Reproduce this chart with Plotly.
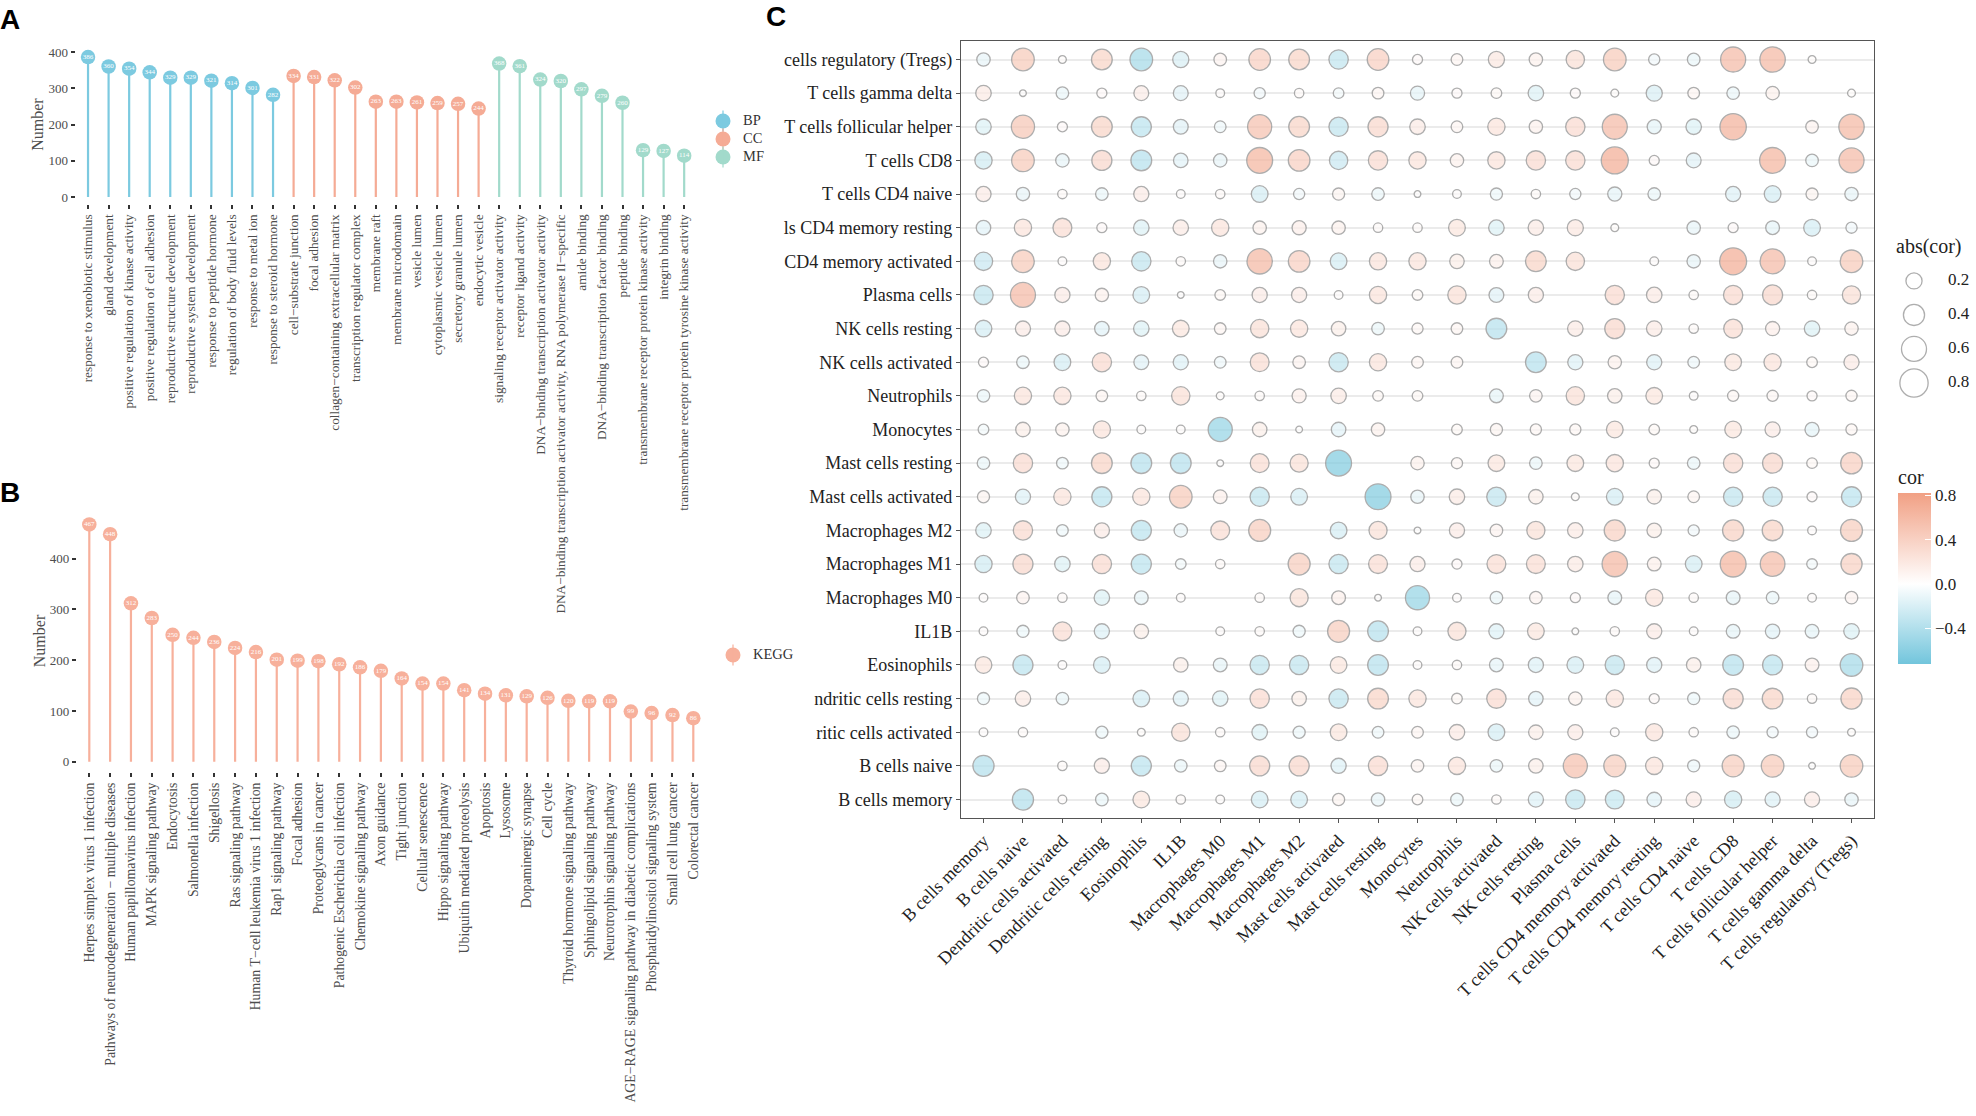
import numpy as np
import plotly.graph_objects as go

W, H = 1976, 1116
M = "\u2212"

# ---------------- Panel A data (GO) ----------------
go_bp_terms = ["response to xenobiotic stimulus", "gland development",
               "positive regulation of kinase activity", "positive regulation of cell adhesion",
               "reproductive structure development", "reproductive system development",
               "response to peptide hormone", "regulation of body fluid levels",
               "response to metal ion", "response to steroid hormone"]
go_bp_counts = [386, 360, 354, 344, 329, 329, 321, 314, 301, 282]

go_cc_terms = [f"cell{M}substrate junction", "focal adhesion",
               f"collagen{M}containing extracellular matrix", "transcription regulator complex",
               "membrane raft", "membrane microdomain", "vesicle lumen",
               "cytoplasmic vesicle lumen", "secretory granule lumen", "endocytic vesicle"]
go_cc_counts = [334, 331, 322, 302, 263, 263, 261, 259, 257, 244]

go_mf_terms = ["signaling receptor activator activity", "receptor ligand activity",
               f"DNA{M}binding transcription activator activity",
               f"DNA{M}binding transcription activator activity, RNA polymerase II{M}specific",
               "amide binding", f"DNA{M}binding transcription factor binding", "peptide binding",
               "transmembrane receptor protein kinase activity", "integrin binding",
               "transmembrane receptor protein tyrosine kinase activity"]
go_mf_counts = [368, 361, 324, 320, 297, 279, 260, 129, 127, 114]

go_groups = ["BP", "CC", "MF"]

# ---------------- Panel B data (KEGG) ----------------
kegg_terms = ["Herpes simplex virus 1 infection", f"Pathways of neurodegeneration {M} multiple diseases",
              "Human papillomavirus infection", "MAPK signaling pathway", "Endocytosis",
              "Salmonella infection", "Shigellosis", "Ras signaling pathway",
              f"Human T{M}cell leukemia virus 1 infection", "Rap1 signaling pathway", "Focal adhesion",
              "Proteoglycans in cancer", "Pathogenic Escherichia coli infection",
              "Chemokine signaling pathway", "Axon guidance", "Tight junction", "Cellular senescence",
              "Hippo signaling pathway", "Ubiquitin mediated proteolysis", "Apoptosis", "Lysosome",
              "Dopaminergic synapse", "Cell cycle", "Thyroid hormone signaling pathway",
              "Sphingolipid signaling pathway", "Neurotrophin signaling pathway",
              f"AGE{M}RAGE signaling pathway in diabetic complications",
              "Phosphatidylinositol signaling system", "Small cell lung cancer", "Colorectal cancer"]
kegg_counts = [467, 448, 312, 283, 250, 244, 236, 224, 216, 201, 199, 198, 192, 186, 179,
               164, 154, 154, 141, 134, 131, 129, 126, 120, 119, 119, 99, 96, 92, 86]

# ---------------- Panel C data (correlation bubbles) ----------------
x_cells = ["B cells memory", "B cells naive", "Dendritic cells activated", "Dendritic cells resting",
           "Eosinophils", "IL1B", "Macrophages M0", "Macrophages M1", "Macrophages M2",
           "Mast cells activated", "Mast cells resting", "Monocytes", "Neutrophils",
           "NK cells activated", "NK cells resting", "Plasma cells", "T cells CD4 memory activated",
           "T cells CD4 memory resting", "T cells CD4 naive", "T cells CD8",
           "T cells follicular helper", "T cells gamma delta", "T cells regulatory (Tregs)"]
# row labels top -> bottom, as visible (left part clipped in the original)
y_cells_top_down = ["cells regulatory (Tregs)", "T cells gamma delta", "T cells follicular helper",
                    "T cells CD8", "T cells CD4 naive", "ls CD4 memory resting", "CD4 memory activated",
                    "Plasma cells", "NK cells resting", "NK cells activated", "Neutrophils", "Monocytes",
                    "Mast cells resting", "Mast cells activated", "Macrophages M2", "Macrophages M1",
                    "Macrophages M0", "IL1B", "Eosinophils", "ndritic cells resting",
                    "ritic cells activated", "B cells naive", "B cells memory"]
N = None
cor_rows = [
    [-0.12, 0.47, 0.02, 0.38, -0.47, -0.2, 0.1, 0.42, 0.38, -0.32, 0.42, 0.05, 0.08, 0.2, 0.12, 0.28, 0.47, -0.07, -0.1, 0.6, 0.62, 0.02, N],
    [0.18, 0.01, -0.1, 0.05, 0.16, -0.16, 0.03, -0.07, 0.04, -0.06, 0.08, -0.14, 0.05, 0.06, -0.18, 0.05, 0.02, -0.2, 0.08, -0.1, 0.12, N, 0.02],
    [-0.18, 0.5, 0.05, 0.38, -0.35, -0.16, -0.08, 0.55, 0.38, -0.32, 0.35, 0.18, 0.08, 0.24, 0.12, 0.32, 0.6, -0.14, -0.18, 0.68, N, 0.1, 0.62],
    [-0.24, 0.47, -0.12, 0.35, -0.38, -0.15, -0.12, 0.65, 0.42, -0.28, 0.32, 0.24, 0.12, 0.24, 0.32, 0.32, 0.72, 0.05, -0.16, N, 0.65, -0.1, 0.6],
    [0.17, -0.12, 0.04, -0.1, 0.17, 0.03, 0.04, -0.22, -0.07, 0.09, -0.1, 0.01, 0.03, -0.09, 0.04, -0.07, -0.14, -0.1, N, -0.17, -0.22, 0.09, -0.12],
    [-0.15, 0.24, 0.3, 0.05, -0.18, 0.18, 0.24, 0.12, 0.14, 0.12, 0.04, 0.04, 0.22, -0.18, 0.18, 0.2, 0.02, N, -0.12, 0.05, -0.13, -0.22, -0.07],
    [-0.28, 0.47, 0.03, 0.24, -0.32, 0.04, -0.12, 0.62, 0.42, -0.22, 0.24, 0.24, 0.15, 0.13, 0.38, 0.28, N, 0.03, -0.12, 0.72, 0.6, 0.03, 0.47],
    [-0.32, 0.6, 0.17, 0.12, -0.22, 0.01, 0.06, 0.17, 0.17, 0.03, 0.24, 0.06, 0.28, -0.16, 0.17, N, 0.32, 0.18, 0.04, 0.32, 0.35, 0.04, 0.28],
    [-0.22, 0.17, 0.17, -0.15, -0.18, 0.22, 0.08, 0.28, 0.24, 0.15, -0.1, 0.07, 0.08, -0.38, N, 0.18, 0.35, 0.18, 0.04, 0.3, 0.14, -0.18, 0.12],
    [0.05, -0.1, -0.22, 0.32, -0.16, -0.17, -0.08, 0.3, 0.1, -0.32, 0.24, 0.08, 0.08, N, -0.38, -0.17, 0.12, -0.17, -0.08, 0.22, 0.24, 0.06, 0.17],
    [-0.1, 0.24, 0.24, 0.08, 0.04, 0.28, 0.02, 0.04, 0.14, 0.18, 0.06, 0.06, N, -0.13, 0.1, 0.28, 0.15, 0.22, 0.03, 0.07, 0.07, 0.05, 0.07],
    [-0.06, 0.15, 0.12, 0.24, 0.03, 0.03, -0.55, 0.15, 0.01, -0.15, 0.12, N, 0.06, 0.09, 0.07, 0.07, 0.22, 0.06, 0.02, 0.22, 0.17, -0.14, 0.07],
    [-0.1, 0.32, -0.08, 0.38, -0.38, -0.38, 0.01, 0.3, 0.27, -0.65, N, 0.12, 0.07, 0.22, -0.1, 0.22, 0.24, 0.05, -0.1, 0.32, 0.35, 0.06, 0.42],
    [0.09, -0.17, 0.24, -0.35, 0.24, 0.47, 0.13, -0.32, -0.22, N, -0.65, -0.12, 0.18, -0.32, 0.15, 0.02, -0.22, 0.15, 0.08, -0.32, -0.32, 0.05, -0.35],
    [-0.18, 0.32, -0.08, 0.17, -0.35, -0.12, 0.3, 0.44, N, -0.22, 0.27, 0.01, 0.17, 0.1, 0.27, 0.18, 0.4, 0.15, -0.07, 0.4, 0.38, 0.03, 0.44],
    [-0.24, 0.35, -0.18, 0.32, -0.35, -0.06, 0.04, N, 0.44, -0.32, 0.3, 0.17, 0.05, 0.3, 0.3, 0.18, 0.62, 0.13, -0.22, 0.65, 0.58, -0.06, 0.4],
    [0.03, 0.1, 0.04, -0.18, -0.13, 0.03, N, 0.04, 0.27, 0.13, 0.01, -0.55, 0.03, -0.1, 0.1, 0.05, -0.13, 0.24, 0.04, -0.13, -0.1, 0.03, 0.1],
    [0.03, -0.09, 0.3, -0.17, 0.15, N, 0.03, 0.04, -0.09, 0.44, -0.38, 0.03, 0.27, -0.17, 0.22, 0.01, 0.04, 0.17, 0.03, -0.13, -0.15, -0.13, -0.18],
    [0.22, -0.35, 0.03, -0.22, N, 0.15, -0.13, -0.32, -0.32, 0.22, -0.38, 0.03, 0.04, -0.13, -0.17, -0.22, -0.32, -0.17, 0.15, -0.38, -0.35, 0.13, -0.47],
    [-0.09, 0.18, -0.1, N, -0.22, -0.17, -0.18, 0.32, 0.15, -0.32, 0.38, 0.24, 0.06, 0.32, -0.15, 0.12, 0.24, 0.05, -0.09, 0.35, 0.38, 0.04, 0.4],
    [0.03, 0.04, N, -0.09, 0.02, 0.28, 0.04, -0.18, -0.09, 0.22, -0.08, 0.08, 0.18, -0.22, 0.15, 0.17, 0.03, 0.24, 0.04, -0.1, -0.07, -0.07, 0.02],
    [-0.4, N, 0.04, 0.17, -0.35, -0.1, 0.08, 0.35, 0.35, -0.17, 0.32, 0.1, 0.24, -0.1, 0.15, 0.55, 0.44, 0.24, -0.09, 0.44, 0.47, 0.01, 0.47],
    [N, -0.4, 0.03, -0.1, 0.22, 0.04, 0.03, -0.22, -0.22, 0.09, -0.12, 0.06, -0.1, 0.04, -0.17, -0.32, -0.3, -0.15, 0.17, -0.24, -0.17, 0.17, -0.12],
]
size_legend_values = [0.2, 0.4, 0.6, 0.8]
cor_tick_values = [-0.4, 0.0, 0.4, 0.8]
cor_tick_text = [f"{M}0.4", "0.0", "0.4", "0.8"]
cor_limits = (-0.72, 0.82)

# ---------------- styles ----------------
SERIF = "Liberation Serif"
SANS = "Liberation Sans"
C_BP, C_CC, C_MF = "#7CCAE0", "#F5AB95", "#A2DACB"
C_KEGG = "#F7B09B"
LOW, HIGH = "#72C5DC", "#F1A084"
TXT = "#4D4D4D"


def xd(a, b):
    return [a / W, b / W]


def yd(top, bottom):
    return [1 - bottom / H, 1 - top / H]


def bubble_diam(v):
    return 4 + 25 * np.sqrt(abs(v) / 0.85)


fig = go.Figure()


def add_lollipops(counts, color, offset, xa, ya):
    xs = list(range(offset, offset + len(counts)))
    lx, ly = [], []
    for x, v in zip(xs, counts):
        lx += [x, x, None]
        ly += [0, v, None]
    fig.add_trace(go.Scatter(x=lx, y=ly, mode="lines", line=dict(color=color, width=2.2),
                             xaxis=xa, yaxis=ya, showlegend=False, hoverinfo="skip"))
    fig.add_trace(go.Scatter(x=xs, y=counts, mode="markers",
                             marker=dict(size=14.5, color=color, line=dict(width=0)),
                             xaxis=xa, yaxis=ya, showlegend=False))
    fig.add_trace(go.Scatter(x=xs, y=counts, mode="text", text=[str(v) for v in counts],
                             textfont=dict(family=SERIF, size=7, color="white"),
                             xaxis=xa, yaxis=ya, showlegend=False, hoverinfo="skip"))


def add_key(names, colors, xa, ya):
    ys = list(range(len(names)))
    fig.add_trace(go.Scatter(x=[0] * len(names), y=ys, mode="markers", xaxis=xa, yaxis=ya,
                             marker=dict(size=15, color=colors, line=dict(width=0)),
                             showlegend=False, hoverinfo="skip"))
    fig.add_trace(go.Scatter(x=[0] * len(names), y=ys, mode="markers", xaxis=xa, yaxis=ya,
                             marker=dict(size=15, symbol="line-ns", line=dict(width=1.2, color=colors)),
                             showlegend=False, hoverinfo="skip"))
    fig.add_trace(go.Scatter(x=[1] * len(names), y=ys, mode="text", text=names, xaxis=xa, yaxis=ya,
                             textposition="middle right",
                             textfont=dict(family=SERIF, size=14.5, color="#333"),
                             showlegend=False, hoverinfo="skip"))


# Panel A
a_terms = go_bp_terms + go_cc_terms + go_mf_terms
add_lollipops(go_bp_counts, C_BP, 0, "x", "y")
add_lollipops(go_cc_counts, C_CC, len(go_bp_terms), "x", "y")
add_lollipops(go_mf_counts, C_MF, len(go_bp_terms) + len(go_cc_terms), "x", "y")
add_key(go_groups, [C_BP, C_CC, C_MF], "x5", "y5")

# Panel B
add_lollipops(kegg_counts, C_KEGG, 0, "x2", "y2")
add_key(["KEGG"], [C_KEGG], "x6", "y6")

# Panel C
nrow = len(y_cells_top_down)
bx, by, bc, bs, ht = [], [], [], [], []
for r, row in enumerate(cor_rows):
    for c, v in enumerate(row):
        if v is None:
            continue
        bx.append(c)
        by.append(nrow - 1 - r)
        bc.append(v)
        bs.append(bubble_diam(v))
        ht.append(f"{y_cells_top_down[r]} / {x_cells[c]}: {v}")

mid = (0 - cor_limits[0]) / (cor_limits[1] - cor_limits[0])
fig.add_trace(go.Scatter(
    x=bx, y=by, mode="markers", xaxis="x3", yaxis="y3", showlegend=False,
    text=ht, hoverinfo="text",
    marker=dict(size=bs, sizemode="diameter", color=bc, cmin=cor_limits[0], cmax=cor_limits[1],
                colorscale=[[0, LOW], [mid, "#FFFFFF"], [1, HIGH]],
                line=dict(color="#8C8C8C", width=1.3),
                colorbar=dict(title=dict(text="cor", side="top", font=dict(family=SERIF, size=20, color="#222")),
                              x=1898 / W, xanchor="left", xpad=0, ypad=0,
                              y=1 - 664 / H, yanchor="bottom",
                              lenmode="pixels", len=198, thickness=33, outlinewidth=0,
                              tickvals=cor_tick_values, ticktext=cor_tick_text,
                              ticks="inside", tickcolor="white", ticklen=6,
                              tickfont=dict(family=SERIF, size=17, color="#222")))))

# size legend for abs(cor)
ly_pos = list(range(len(size_legend_values) - 1, -1, -1))
fig.add_trace(go.Scatter(x=[19] * len(size_legend_values), y=ly_pos, mode="markers",
                         xaxis="x4", yaxis="y4", showlegend=False, hoverinfo="skip",
                         marker=dict(size=[bubble_diam(v) for v in size_legend_values], sizemode="diameter",
                                     color="white", line=dict(color="#8C8C8C", width=1.3))))
fig.add_trace(go.Scatter(x=[53] * len(size_legend_values), y=ly_pos, mode="text",
                         text=[f"{v:.1f}" for v in size_legend_values], textposition="middle right",
                         textfont=dict(family=SERIF, size=17, color="#222"),
                         xaxis="x4", yaxis="y4", showlegend=False, hoverinfo="skip"))

tickfont_a = dict(family=SERIF, size=13.3, color=TXT)
tickfont_b = dict(family=SERIF, size=13.8, color=TXT)
axis_common = dict(showgrid=False, zeroline=False, showline=False, ticks="outside",
                   ticklen=4, tickwidth=1.5, tickcolor="#333", automargin=False)
num_title = dict(text="Number", font=dict(family=SERIF, size=16, color=TXT), standoff=0)
hidden = dict(visible=False, fixedrange=True)

fig.update_layout(
    width=W, height=H, autosize=False, margin=dict(l=0, r=0, t=0, b=0),
    paper_bgcolor="white", plot_bgcolor="white", showlegend=False,
    font=dict(family=SERIF, color=TXT),
    xaxis=dict(domain=xd(75.7, 696.5), anchor="y", range=[-0.6, 29.6], tickmode="array",
               tickvals=list(range(len(a_terms))), ticktext=a_terms, tickangle=-90,
               tickfont=tickfont_a, **axis_common),
    yaxis=dict(domain=yd(45, 204), anchor="x", range=[-19.3, 419.3], tickvals=[0, 100, 200, 300, 400],
               tickfont=dict(family=SERIF, size=13, color=TXT), title=num_title, **axis_common),
    xaxis2=dict(domain=xd(76.8, 705.8), anchor="y2", range=[-0.6, 29.6], tickmode="array",
                tickvals=list(range(len(kegg_terms))), ticktext=kegg_terms, tickangle=-90,
                tickfont=tickfont_b, **axis_common),
    yaxis2=dict(domain=yd(510, 772), anchor="x2", range=[-20, 495.5], tickvals=[0, 100, 200, 300, 400],
                tickfont=dict(family=SERIF, size=13, color=TXT), title=num_title, **axis_common),
    xaxis3=dict(domain=xd(961, 1874), anchor="y3", range=[-0.57, len(x_cells) - 1 + 0.57], tickmode="array",
                tickvals=list(range(len(x_cells))), ticktext=x_cells, tickangle=-45,
                tickfont=dict(family=SERIF, size=18, color="#222"), automargin=False,
                showgrid=False, zeroline=False, showline=True, mirror=True, linecolor="#555",
                linewidth=1.3, ticks="outside", ticklen=4, tickcolor="#555"),
    yaxis3=dict(domain=yd(41, 818), anchor="x3", range=[-0.55, nrow - 1 + 0.55], tickmode="array",
                tickvals=list(range(nrow)), ticktext=y_cells_top_down[::-1],
                tickfont=dict(family=SERIF, size=18, color="#222"), automargin=False,
                showgrid=True, gridcolor="#EBEBEB", gridwidth=2, zeroline=False,
                showline=True, mirror=True, linecolor="#555", linewidth=1.3,
                ticks="outside", ticklen=4, tickcolor="#555"),
    xaxis4=dict(domain=xd(1895, 1975), anchor="y4", range=[0, 80], **hidden),
    yaxis4=dict(domain=yd(270, 400), anchor="x4", range=[-0.5, 3.32], **hidden),
    # key for panel A: glyph centre at x=723px, rows at 121/139/157px
    xaxis5=dict(domain=xd(703, 803), anchor="y5", range=[-1, 4], **hidden),
    yaxis5=dict(domain=yd(103, 175), anchor="x5", range=[3, -1], **hidden),
    # key for panel B: glyph centre at (733px, 655px)
    xaxis6=dict(domain=xd(713, 813), anchor="y6", range=[-1, 4], **hidden),
    yaxis6=dict(domain=yd(637, 673), anchor="x6", range=[1, -1], **hidden),
    annotations=[
        dict(text="<b>A</b>", x=-2 / W, y=1 - 20 / H, xref="paper", yref="paper", xanchor="left",
             yanchor="middle", showarrow=False, font=dict(family=SANS, size=28, color="black")),
        dict(text="<b>B</b>", x=-2 / W, y=1 - 492 / H, xref="paper", yref="paper", xanchor="left",
             yanchor="middle", showarrow=False, font=dict(family=SANS, size=28, color="black")),
        dict(text="<b>C</b>", x=764 / W, y=1 - 16 / H, xref="paper", yref="paper", xanchor="left",
             yanchor="middle", showarrow=False, font=dict(family=SANS, size=28, color="black")),
        dict(text="abs(cor)", x=1894 / W, y=1 - 247 / H, xref="paper", yref="paper", xanchor="left",
             yanchor="middle", showarrow=False, font=dict(family=SERIF, size=20, color="#222")),
    ],
)

fig.write_html("out.html", config={"displayModeBar": False},
               post_script="document.body.style.margin='0px';document.body.style.overflow='hidden';")
